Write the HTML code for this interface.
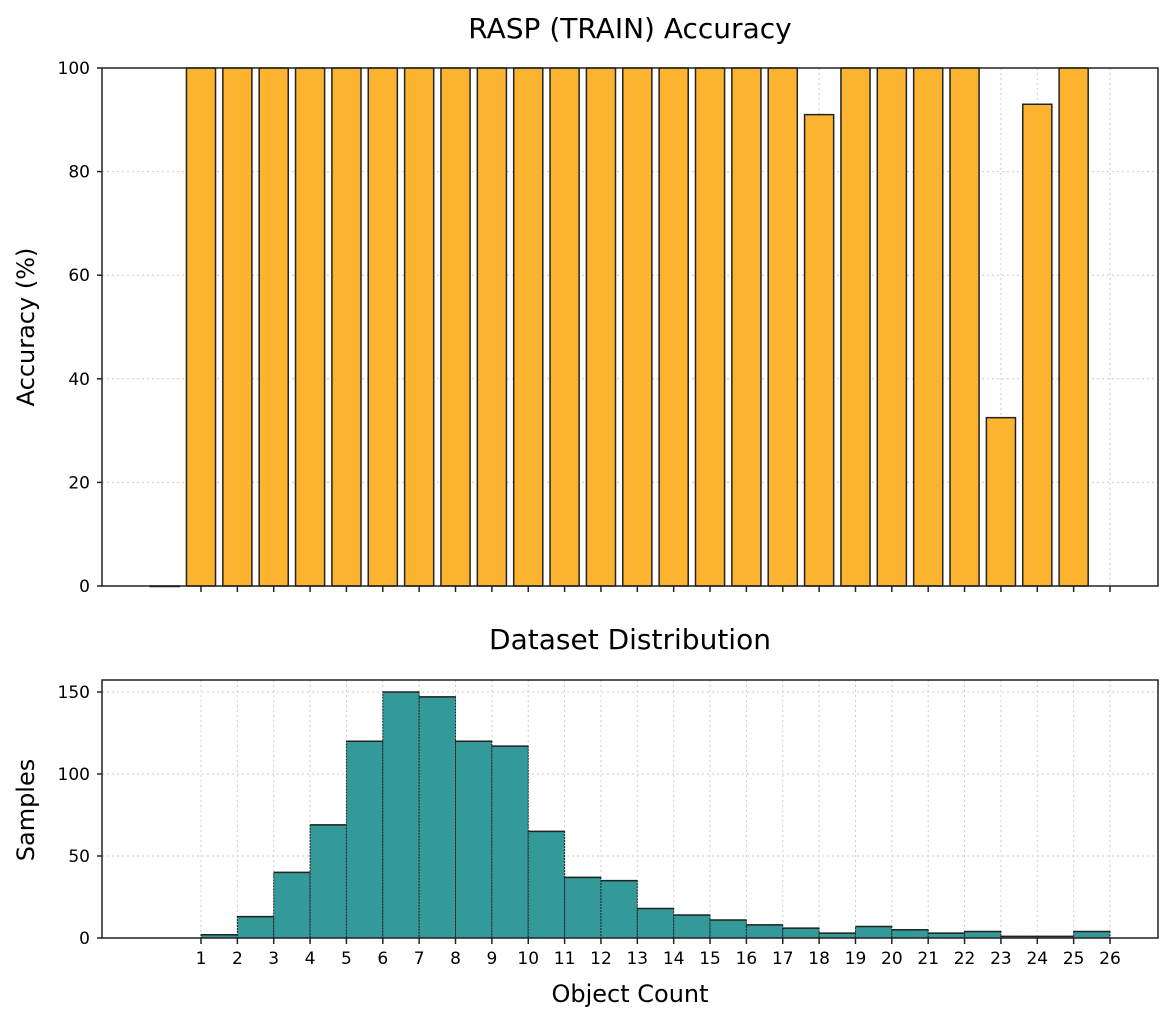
<!DOCTYPE html>
<html><head><meta charset="utf-8"><style>
body{margin:0;background:#fff;font-family:"Liberation Sans","DejaVu Sans",sans-serif}
svg text{font-family:"DejaVu Sans","Liberation Sans",sans-serif;fill:#000}
</style></head><body>
<svg id="c" width="1173" height="1021" xmlns="http://www.w3.org/2000/svg"></svg>
<script>
const accCats=[0,1,2,3,4,5,6,7,8,9,10,11,12,13,14,15,16,17,18,19,20,21,22,23,24,25];
const accVals=[0,100,100,100,100,100,100,100,100,100,100,100,100,100,100,100,100,100,91,100,100,100,100,32.5,93,100];
const accTicks=[0,20,40,60,80,100];
const histBins=[1,2,3,4,5,6,7,8,9,10,11,12,13,14,15,16,17,18,19,20,21,22,23,24,25];
const histVals=[2,13,40,69,120,150,147,120,117,65,37,35,18,14,11,8,6,3,7,5,3,4,1,1,4];
const histTicks=[0,50,100,150];
const xTickLabels=[1,2,3,4,5,6,7,8,9,10,11,12,13,14,15,16,17,18,19,20,21,22,23,24,25,26];

const svg=document.getElementById('c');const NS='http://www.w3.org/2000/svg';
function mk(t,a,p){const e=document.createElementNS(NS,t);for(const k in a)e.setAttribute(k,a[k]);(p||svg).appendChild(e);return e;}
const L=102,R=1158;
const x=v=>201+(v-1)*36.36;
const yT=v=>586-v*5.18;
const yB=v=>938-v*(246/150);

// Top chart
let g=mk('g',{});
let t=mk('text',{x:630,y:38,'font-size':28,'text-anchor':'middle'},g);t.textContent='RASP (TRAIN) Accuracy';

accTicks.forEach(v=>{mk('line',{x1:L,x2:R,y1:yT(v),y2:yT(v),stroke:'#ccc','stroke-dasharray':'2,3','stroke-width':1},g);
 mk('line',{x1:L-5,x2:L,y1:yT(v),y2:yT(v),stroke:'#222','stroke-width':1.5},g);
 const tt=mk('text',{x:L-12,y:yT(v)+6,'font-size':17,'text-anchor':'end'},g);tt.textContent=v;
 });
xTickLabels.forEach(v=>{mk('line',{x1:x(v),x2:x(v),y1:68,y2:586,stroke:'#ccc','stroke-dasharray':'2,3'},g);
 mk('line',{x1:x(v),x2:x(v),y1:586,y2:592,stroke:'#222','stroke-width':1.5},g);});
accCats.forEach((c,i)=>{const w=0.8*36.36;const b=mk('rect',{x:x(c)-w/2,y:yT(accVals[i]),width:w,height:Math.max(0.5,586-yT(accVals[i])),fill:'#fbb330',stroke:'#222','stroke-width':1.5},g);
 });
mk('rect',{x:L,y:68,width:R-L,height:518,fill:'none',stroke:'#222','stroke-width':1.5},g);
t=mk('text',{x:0,y:0,'font-size':24,'text-anchor':'middle',transform:'translate(34,327) rotate(-90)'},g);t.textContent='Accuracy (%)';


// Bottom chart
g=mk('g',{});
t=mk('text',{x:630,y:649,'font-size':28,'text-anchor':'middle'},g);t.textContent='Dataset Distribution';

histTicks.forEach(v=>{mk('line',{x1:L,x2:R,y1:yB(v),y2:yB(v),stroke:'#ccc','stroke-dasharray':'2,3'},g);
 mk('line',{x1:L-5,x2:L,y1:yB(v),y2:yB(v),stroke:'#222','stroke-width':1.5},g);
 const tt=mk('text',{x:L-12,y:yB(v)+6,'font-size':17,'text-anchor':'end'},g);tt.textContent=v;
 });
xTickLabels.forEach(v=>{mk('line',{x1:x(v),x2:x(v),y1:680,y2:938,stroke:'#ccc','stroke-dasharray':'2,3'},g);
 mk('line',{x1:x(v),x2:x(v),y1:938,y2:944,stroke:'#222','stroke-width':1.5},g);
 const tt=mk('text',{x:x(v),y:964,'font-size':17,'text-anchor':'middle'},g);tt.textContent=v;
 });
histBins.forEach((b,i)=>{const r=mk('rect',{x:x(b),y:yB(histVals[i]),width:36.36,height:938-yB(histVals[i]),fill:'#339999',stroke:'#222','stroke-width':1,'stroke-dasharray':'2,1'},g);
 
 mk('line',{x1:x(b),x2:x(b)+36.36,y1:yB(histVals[i]),y2:yB(histVals[i]),stroke:'#222','stroke-width':1.5},g);});
mk('rect',{x:L,y:680,width:R-L,height:258,fill:'none',stroke:'#222','stroke-width':1.5},g);
t=mk('text',{x:0,y:0,'font-size':24,'text-anchor':'middle',transform:'translate(34,810) rotate(-90)'},g);t.textContent='Samples';

t=mk('text',{x:630,y:1002,'font-size':24,'text-anchor':'middle'},g);t.textContent='Object Count';

</script>
</body></html>
